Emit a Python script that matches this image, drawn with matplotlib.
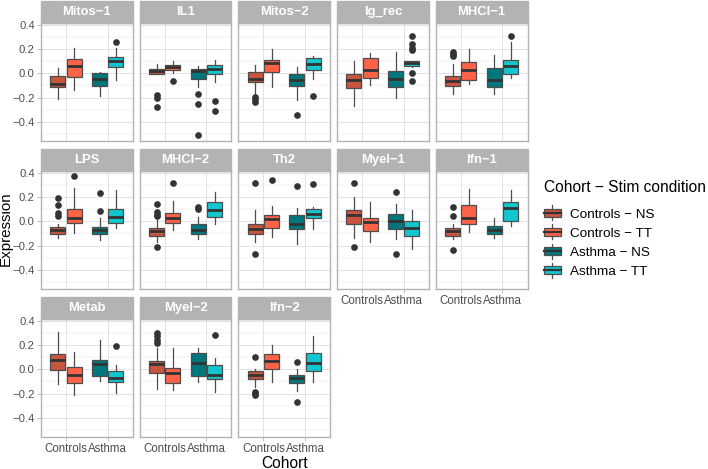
import numpy as np
import matplotlib
matplotlib.use("Agg")
from matplotlib import pyplot as plt
from matplotlib.legend_handler import HandlerBase
from matplotlib.patches import Rectangle, Patch
from matplotlib.lines import Line2D

plt.rcParams['font.family'] = ['Liberation Sans', 'DejaVu Sans']

# facet names (order of the facet_wrap)
panels = ["Mitos−1", "IL1", "Mitos−2", "Ig_rec", "MHCI−1",
          "LPS", "MHCI−2", "Th2", "Myel−1", "Ifn−1",
          "Metab", "Myel−2", "Ifn−2"]
groups = ["Controls − NS", "Controls − TT", "Asthma − NS", "Asthma − TT"]
cohorts = ["Controls", "Asthma"]
yticks = [-0.4, -0.2, 0.0, 0.2, 0.4]
ytick_labels = ["−0.4", "−0.2", "0.0", "0.2", "0.4"]
colors = ["#C8553D", "#FF6347", "#00777C", "#12C6CF"]

# box statistics, one row per panel, order = groups
q1 = [[-0.112, -0.030, -0.107, 0.049],
      [-0.003, 0.025, -0.044, -0.003],
      [-0.071, 0.011, -0.107, 0.030],
      [-0.123, -0.038, -0.115, 0.060],
      [-0.107, -0.052, -0.115, -0.003],
      [-0.104, -0.016, -0.107, -0.016],
      [-0.118, -0.016, -0.101, 0.038],
      [-0.101, -0.052, -0.066, 0.030],
      [-0.025, -0.079, -0.060, -0.118],
      [-0.118, -0.025, -0.107, 0.003],
      [-0.008, -0.110, -0.055, -0.104],
      [-0.027, -0.112, -0.055, -0.077],
      [-0.082, 0.005, -0.115, -0.014]]
med = [[-0.085, 0.058, -0.044, 0.104],
       [0.022, 0.049, 0.022, 0.036],
       [-0.044, 0.085, -0.052, 0.074],
       [-0.055, 0.025, -0.049, 0.085],
       [-0.063, 0.025, -0.058, 0.060],
       [-0.074, 0.025, -0.074, 0.036],
       [-0.082, 0.025, -0.074, 0.096],
       [-0.060, 0.022, -0.019, 0.063],
       [0.049, -0.005, 0.000, -0.058],
       [-0.079, 0.025, -0.068, 0.110],
       [0.077, -0.047, 0.047, -0.074],
       [0.041, -0.027, 0.049, -0.049],
       [-0.049, 0.071, -0.074, 0.055]]
q3 = [[-0.025, 0.120, 0.003, 0.134],
      [0.038, 0.071, 0.036, 0.068],
      [0.014, 0.110, -0.008, 0.126],
      [-0.008, 0.123, 0.019, 0.101],
      [-0.019, 0.093, 0.044, 0.110],
      [-0.047, 0.101, -0.044, 0.101],
      [-0.052, 0.071, -0.025, 0.159],
      [-0.025, 0.049, 0.049, 0.104],
      [0.096, 0.025, 0.063, 0.005],
      [-0.058, 0.137, -0.038, 0.159],
      [0.123, 0.022, 0.074, -0.014],
      [0.068, 0.014, 0.137, 0.033],
      [-0.016, 0.123, -0.049, 0.134]]
lo = [[-0.216, -0.140, -0.190, -0.058],
      [-0.010, 0.000, -0.115, -0.074],
      [-0.175, -0.112, -0.222, -0.044],
      [-0.266, -0.099, -0.200, 0.052],
      [-0.175, -0.085, -0.173, -0.038],
      [-0.137, -0.096, -0.156, -0.055],
      [-0.170, -0.074, -0.150, -0.025],
      [-0.170, -0.126, -0.186, -0.066],
      [-0.142, -0.170, -0.145, -0.230],
      [-0.150, -0.088, -0.134, -0.041],
      [-0.123, -0.211, -0.093, -0.197],
      [-0.164, -0.175, -0.107, -0.184],
      [-0.148, -0.104, -0.178, -0.101]]
hi = [[0.044, 0.210, 0.010, 0.210],
      [0.077, 0.104, 0.058, 0.107],
      [0.066, 0.200, 0.052, 0.145],
      [0.104, 0.167, 0.175, 0.101],
      [0.080, 0.200, 0.153, 0.258],
      [-0.020, 0.270, 0.030, 0.260],
      [0.010, 0.167, 0.038, 0.244],
      [0.090, 0.129, 0.112, 0.118],
      [0.200, 0.159, 0.140, 0.090],
      [-0.019, 0.268, 0.027, 0.260],
      [0.304, 0.140, 0.241, 0.036],
      [0.173, 0.173, 0.173, 0.090],
      [0.003, 0.200, 0.000, 0.274]]
outliers = [[[], [], [], [0.26]],
            [[-0.18, -0.20, -0.28], [-0.06], [-0.175, -0.257, -0.512], [-0.23, -0.307]],
            [[-0.195, -0.21, -0.236], [], [-0.348], [-0.186]],
            [[], [], [], [0.31, 0.24, 0.21, 0.19, 0.0, -0.06]],
            [[0.175, 0.159, 0.14], [], [], [0.31]],
            [[0.195, 0.137, 0.068, 0.047], [0.37], [0.236, 0.088], []],
            [[0.142, 0.074, 0.055, 0.044, -0.216], [0.315], [0.118, 0.10], []],
            [[0.315, -0.27], [0.342], [0.29], [0.31]],
            [[0.318, -0.216], [], [0.238, -0.27], []],
            [[0.118, 0.044, -0.233], [], [], []],
            [[], [], [], [0.195]],
            [[0.30, 0.274, 0.241, 0.219], [], [], [0.285]],
            [[0.099, -0.184, -0.197, -0.208], [], [0.058, -0.271], []]]

W, H = 708, 469
fig = plt.figure(figsize=(W / 100, H / 100), dpi=100)

edge = "#4D4D4D"
grid = "#DEDEDE"
frame = "#B3B3B3"
ncol = 5
pos = [0.805, 1.195, 1.805, 2.195]

for i, name in enumerate(panels):
    r, c = divmod(i, ncol)
    left = 41 + c * 98.7
    top = 23 + r * 148
    ph = 117.5
    ax = fig.add_axes([left / W, 1 - (top + ph) / H, 91.7 / W, ph / H])

    stats = []
    for g in range(4):
        stats.append(dict(med=med[i][g], q1=q1[i][g], q3=q3[i][g],
                          whislo=lo[i][g], whishi=hi[i][g], fliers=outliers[i][g]))
    bp = ax.bxp(stats, positions=pos, widths=0.36, patch_artist=True,
                showcaps=False,
                boxprops=dict(edgecolor=edge, linewidth=0.9),
                whiskerprops=dict(color=edge, linewidth=0.9),
                medianprops=dict(color="#333333", linewidth=2.0, solid_capstyle="butt"),
                flierprops=dict(marker="o", markerfacecolor="#333333",
                                markeredgecolor="#333333", markersize=3.8))
    for b, col in zip(bp["boxes"], colors):
        b.set_facecolor(col)
    for z in bp["whiskers"] + bp["fliers"]:
        z.set_zorder(2)
    for z in bp["boxes"]:
        z.set_zorder(3)
    for z in bp["medians"]:
        z.set_zorder(4)

    ax.set_xlim(0.4, 2.6)
    ax.set_ylim(-0.554, 0.414)
    ax.set_yticks(yticks)
    ax.set_yticks([-0.5, -0.3, -0.1, 0.1, 0.3], minor=True)
    ax.set_xticks([1, 2])
    ax.grid(True, which="major", color=grid, linewidth=0.6)
    ax.grid(True, which="minor", axis="y", color=grid, linewidth=0.3)
    ax.set_axisbelow(True)
    for s in ax.spines.values():
        s.set_color(frame)
        s.set_linewidth(1.0)
    ax.tick_params(which="major", length=2.75, width=0.6, color=frame,
                   labelsize=8.3, labelcolor="#4D4D4D", pad=1.8)
    ax.tick_params(which="minor", length=0)

    if c == 0:
        ax.set_yticklabels(ytick_labels)
        ax.tick_params(axis="y", which="major", labelsize=8.1)
    else:
        ax.tick_params(axis="y", which="major", length=0, labelleft=False)
    if i + ncol >= len(panels):
        ax.set_xticklabels(cohorts)
    else:
        ax.tick_params(axis="x", which="major", length=0, labelbottom=False)

    # facet strip
    sh = 22 / ph
    ax.add_patch(Rectangle((0, 1), 1, sh, transform=ax.transAxes,
                           facecolor=frame, edgecolor=frame, linewidth=1.0, clip_on=False))
    ax.text(0.5, 1 + sh / 2, name, transform=ax.transAxes, ha="center", va="center",
            color="white", fontsize=9.4, fontweight="bold")

fig.text(284.5 / W, 1 - 463 / H, "Cohort", ha="center", va="center", fontsize=11.2)
fig.text(6 / W, 1 - 229 / H, "Expression", ha="center", va="center",
         rotation=90, fontsize=10.9)


class BoxKey(HandlerBase):
    def create_artists(self, legend, orig_handle, xdescent, ydescent,
                       width, height, fontsize, trans):
        x0, y0 = -xdescent, -ydescent
        cx = x0 + width / 2
        wl = Line2D([cx, cx], [y0 - 0.2 * height, y0 + 1.2 * height],
                    color=edge, linewidth=0.9, transform=trans)
        box = Rectangle((x0, y0 + 0.1 * height), width, 0.8 * height,
                        facecolor=orig_handle.get_facecolor(), edgecolor=edge,
                        linewidth=0.9, transform=trans)
        ml = Line2D([x0, x0 + width], [y0 + height / 2] * 2, color="#333333",
                    linewidth=1.6, transform=trans)
        return [wl, box, ml]


handles = [Patch(facecolor=col) for col in colors]
leg = fig.legend(handles, groups, handler_map={Patch: BoxKey()},
                 loc="upper left", bbox_to_anchor=(544 / W, 1 - 180 / H),
                 frameon=False, fontsize=9.7, title="Cohort − Stim condition",
                 title_fontsize=11.2, alignment="left", handlelength=1.25,
                 handleheight=0.85, handletextpad=0.65, labelspacing=0.45,
                 borderpad=0, borderaxespad=0)
# a bit more room between title and keys, as in ggplot
leg._legend_box.sep = 9

fig.savefig("out.png", dpi=100)
